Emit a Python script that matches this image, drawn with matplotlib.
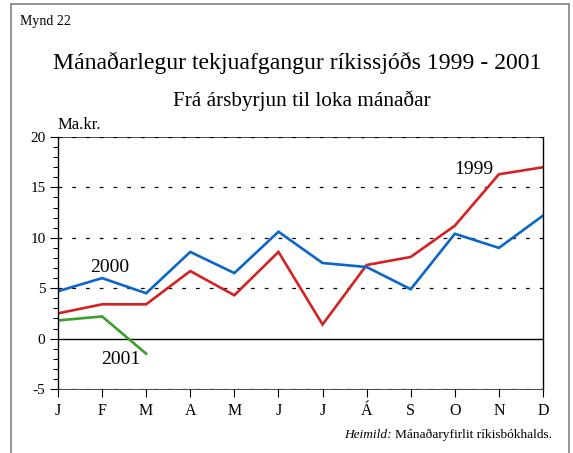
import matplotlib.pyplot as plt
from matplotlib.patches import Rectangle
from matplotlib.ticker import MultipleLocator

plt.rcParams['font.family'] = ['Liberation Serif', 'DejaVu Serif']

months = ["J", "F", "M", "A", "M", "J", "J", "Á", "S", "O", "N", "D"]
y1999 = [2.5, 3.4, 3.4, 6.7, 4.3, 8.6, 1.4, 7.3, 8.1, 11.2, 16.3, 17.0]
y2000 = [4.7, 6.0, 4.5, 8.6, 6.5, 10.6, 7.5, 7.1, 4.9, 10.4, 9.0, 12.2]
y2001 = [1.8, 2.2, -1.5]
yticks = [-5, 0, 5, 10, 15, 20]

W, H = 573, 453
fig = plt.figure(figsize=(W / 100, H / 100), dpi=100)
ax = fig.add_axes([58 / W, 1 - 389 / H, (543 - 58) / W, (389 - 137) / H])

x = list(range(len(months)))
ax.plot(x, y1999, color='#d42222', lw=1.9, solid_joinstyle='miter')
ax.plot(x, y2000, color='#0a66c8', lw=1.9, solid_joinstyle='miter')
ax.plot(x[:len(y2001)], y2001, color='#3c9e2c', lw=1.9, solid_joinstyle='miter')

# grid lines: dashed at every 5, solid at zero
for v in yticks:
    if v == 0:
        ax.axhline(v, color='black', lw=1.0, zorder=1)
    else:
        ax.axhline(v, color='black', lw=0.9, ls=(0, (3, 8)), zorder=1)

ax.set_xlim(0, 11)
ax.set_ylim(-5, 20)
ax.set_xticks(x)
ax.set_xticklabels(months, fontsize=11.5)
ax.set_yticks(yticks)
ax.set_yticklabels([str(v) for v in yticks], fontsize=11)
ax.yaxis.set_minor_locator(MultipleLocator(1))
ax.tick_params(axis='y', which='major', direction='out', length=6, width=0.8, pad=3)
ax.tick_params(axis='y', which='minor', direction='out', length=3.5, width=0.8)
ax.tick_params(axis='x', which='major', direction='out', length=6, width=0.8, pad=4)

for side in ['left', 'right']:
    ax.spines[side].set_linewidth(1.0)
for side in ['top', 'bottom']:
    ax.spines[side].set_linewidth(0.5)

# series labels
ax.text(1.18, 7.1, "2000", fontsize=14, ha='center', va='center')
ax.text(1.43, -2.1, "2001", fontsize=14, ha='center', va='center')
ax.text(9.43, 16.8, "1999", fontsize=14, ha='center', va='center')

# texts around the chart
fig.text(20 / W, 1 - 22 / H, "Mynd 22", fontsize=10, ha='left', va='center')
fig.text(297 / W, 1 - 63 / H, "Mánaðarlegur tekjuafgangur ríkissjóðs 1999 - 2001",
         fontsize=17.1, ha='center', va='center')
fig.text(302 / W, 1 - 101 / H, "Frá ársbyrjun til loka mánaðar",
         fontsize=15.3, ha='center', va='center')
fig.text(58 / W, 1 - 125 / H, "Ma.kr.", fontsize=12, ha='left', va='center')
fig.text(392 / W, 1 - 435 / H, "Heimild:", fontsize=9.6, style='italic', ha='right', va='center')
fig.text(395 / W, 1 - 435 / H, "Mánaðaryfirlit ríkisbókhalds.", fontsize=9.6, ha='left', va='center')

# outer frame
fig.patches.append(Rectangle((11 / W, -0.05), (569 - 11) / W, 1.05 - 4 / H,
                             transform=fig.transFigure, fill=False,
                             edgecolor='#808080', lw=1.2))

fig.savefig("out.png", dpi=100)
